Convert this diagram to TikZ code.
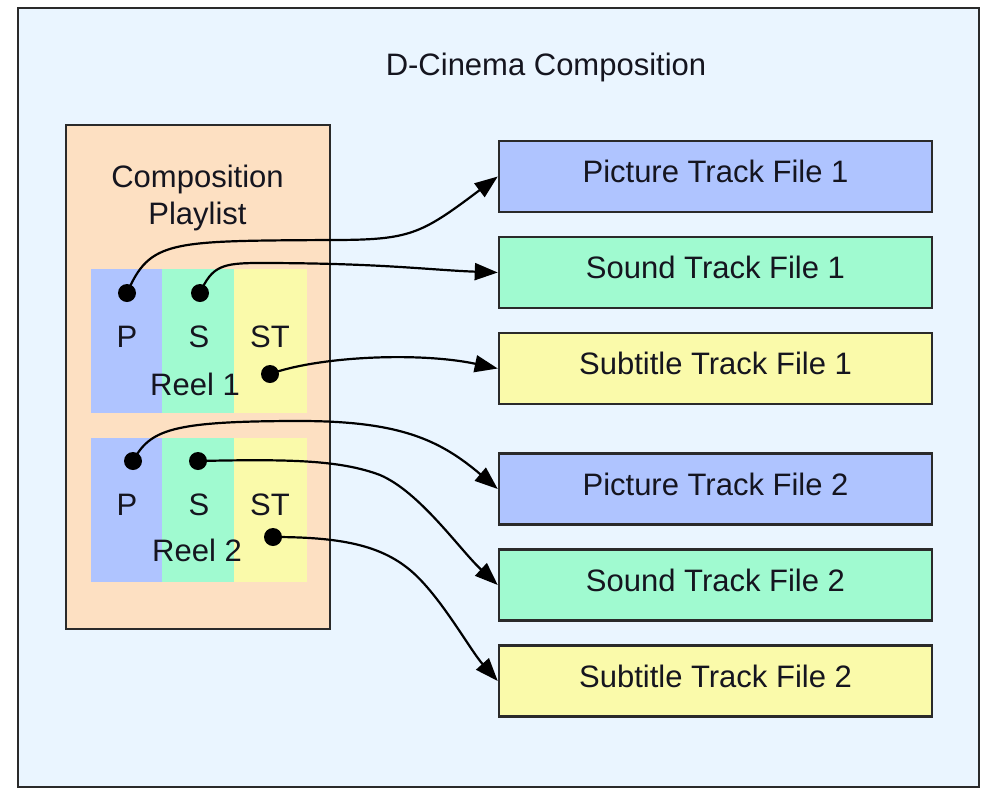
\documentclass[tikz,border=0pt]{standalone}
\usepackage{fontspec}
\setmainfont{Liberation Sans}
\usetikzlibrary{arrows.meta}
\definecolor{bgblue}{HTML}{EAF5FF}
\definecolor{peach}{HTML}{FDE0C2}
\definecolor{picblue}{HTML}{AFC4FF}
\definecolor{sndgreen}{HTML}{A0FAD0}
\definecolor{subyellow}{HTML}{FAFAAA}
\definecolor{edge}{HTML}{2A2A2A}
\definecolor{textcol}{HTML}{15151F}
\begin{document}
\begin{tikzpicture}[x=1pt,y=-1pt,
  every node/.style={font=\fontsize{31}{37}\selectfont, text=textcol},
  trk/.style={draw=edge, line width=2.5pt, minimum width=433pt, minimum height=71pt,
    inner sep=0pt, text height=22pt, text depth=10pt, anchor=center},
  dotnode/.style={circle, fill=black, inner sep=0pt, minimum size=18pt},
  conn/.style={line width=2.2pt, draw=black, -{Triangle[length=23pt,width=17pt]}},
  lbl/.style={anchor=base, inner sep=0pt},
  frame/.style={draw=edge, line width=2.5pt}]
\useasboundingbox (0,0) rectangle (985,788);
\fill[white] (0,0) rectangle (985,788);
\draw[frame, fill=bgblue] (18,8) rectangle (979,787);
\node[lbl] (title) at (546,75) {D-Cinema Composition};
% composition playlist
\draw[frame, fill=peach] (66,125) rectangle (330,629);
\node[lbl] (cpl1) at (197.5,187) {Composition};
\node[lbl] (cpl2) at (197.5,224) {Playlist};
% reel 1
\fill[picblue] (91,269) rectangle (162,413);
\fill[sndgreen] (162,269) rectangle (234,413);
\fill[subyellow] (234,269) rectangle (307,413);
\node[lbl] (r1p) at (127,347) {P};
\node[lbl] (r1s) at (199,347) {S};
\node[lbl] (r1st) at (270,347) {ST};
\node[lbl] (r1) at (195,395) {Reel 1};
% reel 2
\fill[picblue] (91,438) rectangle (162,582);
\fill[sndgreen] (162,438) rectangle (234,582);
\fill[subyellow] (234,438) rectangle (307,582);
\node[lbl] (r2p) at (127,515) {P};
\node[lbl] (r2s) at (199,515) {S};
\node[lbl] (r2st) at (270,515) {ST};
\node[lbl] (r2) at (197,561) {Reel 2};
% track files
\node[trk, fill=picblue] (pic1) at (715.5,176.5) {Picture Track File 1};
\node[trk, fill=sndgreen] (snd1) at (715.5,272.5) {Sound Track File 1};
\node[trk, fill=subyellow] (sub1) at (715.5,368.5) {Subtitle Track File 1};
\node[trk, fill=picblue] (pic2) at (715.5,489) {Picture Track File 2};
\node[trk, fill=sndgreen] (snd2) at (715.5,585) {Sound Track File 2};
\node[trk, fill=subyellow] (sub2) at (715.5,681) {Subtitle Track File 2};
% dots
\node[dotnode] (d1p) at (127,293) {};
\node[dotnode] (d1s) at (200,293) {};
\node[dotnode] (d1st) at (270,374) {};
\node[dotnode] (d2p) at (133,461) {};
\node[dotnode] (d2s) at (198,461) {};
\node[dotnode] (d2st) at (273,537) {};
% connectors
\draw[conn] (d1p.center) .. controls (150,240) and (170,241) .. (330,240)
  .. controls (410,240) and (420,235) .. (pic1.west);
\draw[conn] (d1s.center) .. controls (212,266) and (222,263) .. (260,263)
  .. controls (380,263) and (430,270) .. (snd1.west);
\draw[conn] (d1st.center) .. controls (320,356) and (420,352) .. (sub1.west);
\draw[conn] (d2p.center) .. controls (150,430) and (170,421) .. (300,421)
  .. controls (400,421) and (440,440) .. (pic2.west);
\draw[conn] (d2s.center) .. controls (290,459) and (340,460) .. (380,475)
  .. controls (420,492) and (460,550) .. (snd2.west);
\draw[conn] (d2st.center) .. controls (340,537) and (380,545) .. (410,570)
  .. controls (440,595) and (470,650) .. (sub2.west);
\end{tikzpicture}
\end{document}
